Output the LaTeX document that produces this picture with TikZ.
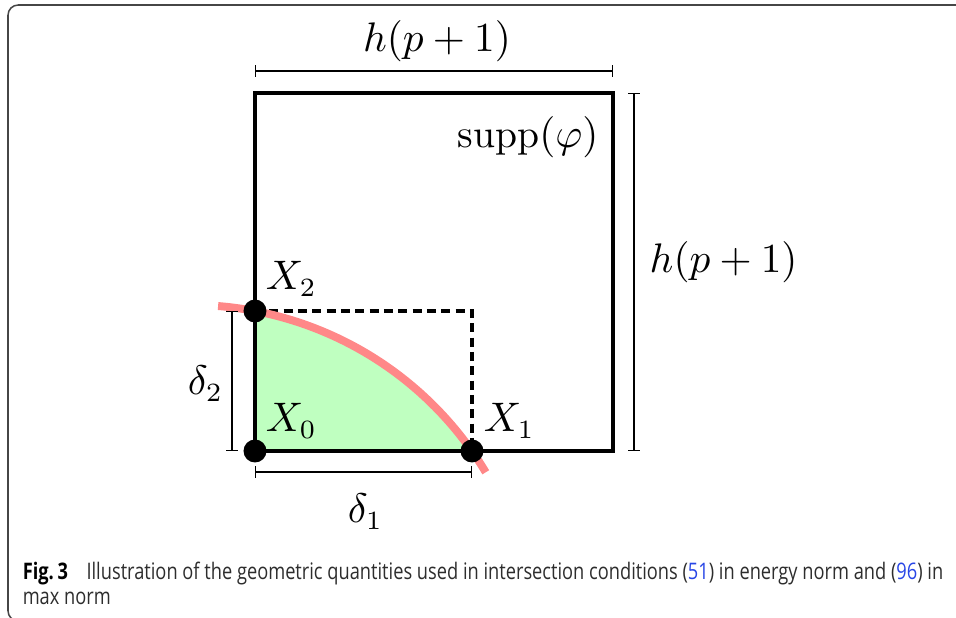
\documentclass[tikz,border=0pt]{standalone}
\usepackage{amsmath,amssymb}
\usepackage{fontspec}
\newfontfamily\capfont[FakeStretch=0.8]{Open Sans}
\usetikzlibrary{arrows.meta,calc,positioning}
\definecolor{suppgreen}{RGB}{191,255,192}
\definecolor{curvered}{RGB}{255,136,136}
\definecolor{frameg}{RGB}{70,70,70}
\definecolor{capgray}{RGB}{45,45,45}
\definecolor{reflink}{RGB}{40,70,230}
\tikzset{
  pnt/.style={circle,fill,inner sep=0pt,minimum size=6.1pt},
  bdry/.style={line width=0.9pt},
  dsh/.style={line width=0.85pt,dash pattern=on 2.4pt off 1.4pt},
  crv/.style={line width=2.1pt,curvered},
  dimline/.style={{Bar[width=3pt]}-{Bar[width=3pt]},line width=0.35pt},
  lbl/.style={inner sep=0pt},
  captxt/.style={inner sep=0pt,anchor=base west,text=capgray,font=\capfont\fontsize{6.05pt}{7pt}\selectfont},
  every node/.style={font=\fontsize{10.5pt}{12pt}\selectfont}
}

\begin{document}
\begin{tikzpicture}[x=0.26525pt,y=0.26525pt]
\clip (0,0) rectangle (956,618);
% frame of the figure
\draw[frameg,line width=0.4pt,rounded corners=2.7pt] (1000,613) -- (8,613) -- (8,-3) -- (1000,-3);
% corners and points
\coordinate (O) at (255,167);
\coordinate (A) at (472,167);
\coordinate (B) at (255,307);
\coordinate (AB) at (472,307);
\coordinate (TR) at (613,525);
\coordinate (C) at (190.5,-31);
\fill[suppgreen] (O) -- (A) arc[start angle=35.12,end angle=79.2,radius=344.1] -- cycle;
\draw[bdry] (O) rectangle (TR);
\draw[dsh] (B) -- (AB) -- (A);
\draw[crv] ($(C)+(30.9:344.1)$) arc[start angle=30.9,end angle=85.4,radius=344.1];
\node[pnt] (X0) at (O) {};
\node[pnt] (X1) at (A) {};
\node[pnt] (X2) at (B) {};
\node[lbl,anchor=base west] (lX0) at (265,186) {$X_0$};
\node[lbl,anchor=base west] (lX1) at (483,186) {$X_1$};
\node[lbl,anchor=base west] (lX2) at (265,328) {$X_2$};
\node[lbl,anchor=base west] (lsupp) at (457,470) {$\operatorname{supp}(\varphi)$};
% dimensions
\coordinate (t1) at (255,547); \coordinate (t2) at (613,547);
\coordinate (r1) at (634,525); \coordinate (r2) at (634,167);
\coordinate (l1) at (232,307); \coordinate (l2) at (232,167);
\coordinate (b1) at (255,146); \coordinate (b2) at (472,146);
\draw[dimline] (t1) -- (t2);
\draw[dimline] (r1) -- (r2);
\draw[dimline] (l1) -- (l2);
\draw[dimline] (b1) -- (b2);
\node[lbl,anchor=base] (htop) at (437,566) {$h(p+1)$};
\node[lbl,anchor=base west] (hright) at (649,345) {$h(p+1)$};
\node[lbl,anchor=base west] (d2) at (187,223) {$\delta_2$};
\node[lbl,anchor=base west] (d1) at (347,95) {$\delta_1$};
% caption
\node[captxt] (cap1) at (22,38)
  {{\bfseries\color{black}Fig.\,3}\hspace{4.9pt}Illustration of the geometric quantities used in intersection conditions (\textcolor{reflink}{51}) in energy norm and (\textcolor{reflink}{96}) in};
\node[captxt] (cap2) at (22,13) {max norm};
\end{tikzpicture}
\end{document}
